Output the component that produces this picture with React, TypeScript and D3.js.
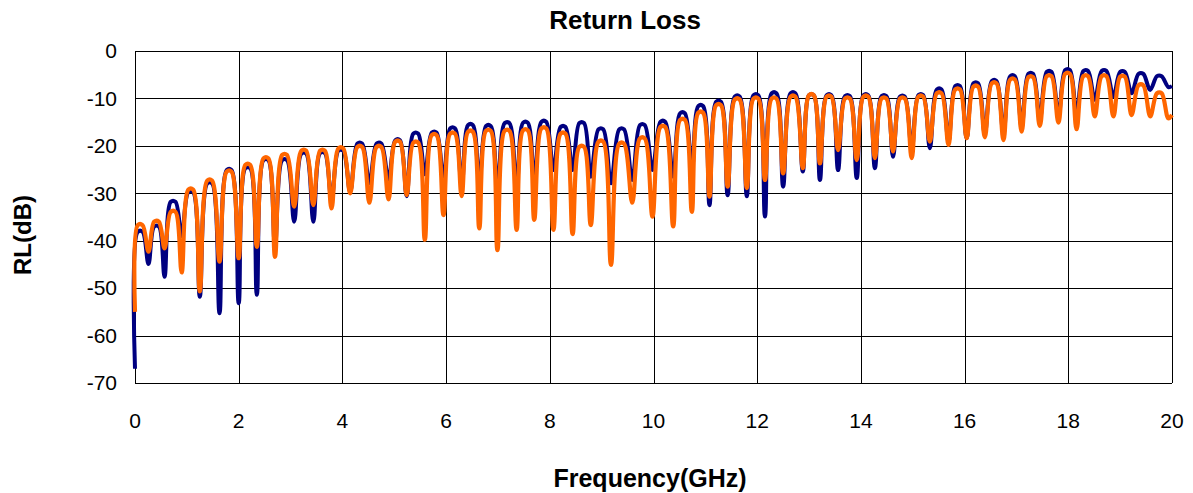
import * as d3 from 'd3'

// ripple minima (GHz)
const dipFreq = [
  0.26, 0.57, 0.9, 1.25, 1.63, 2.0, 2.35, 2.7, 3.07, 3.44, 3.79, 4.15, 4.52, 4.89,
  5.24, 5.59, 5.95, 6.3, 6.64, 6.99, 7.36, 7.7, 8.07, 8.44, 8.79, 9.18, 9.59, 9.98,
  10.38, 10.74, 11.08, 11.43, 11.8, 12.15, 12.5, 12.88, 13.21, 13.56, 13.92, 14.27,
  14.62, 14.98, 15.33, 15.69, 16.04, 16.39, 16.75, 17.1, 17.45, 17.81, 18.16, 18.51,
  18.87, 19.22, 19.58, 19.93,
]

// peak before each dip (dB)
const bluePeak = [
  -38.1, -37.0, -31.8, -29.7, -27.9, -25.1, -24.7, -23.0, -23.0, -21.6, -21.5, -21.0,
  -19.5, -19.5, -18.8, -17.4, -17.2, -16.3, -15.6, -15.8, -15.2, -15.1, -14.9, -16.0,
  -15.2, -16.5, -16.5, -15.6, -14.9, -13.1, -11.6, -10.7, -9.6, -9.3, -8.9, -8.9,
  -9.3, -9.3, -9.5, -9.3, -9.5, -9.6, -9.3, -8.1, -7.4, -6.8, -6.3, -5.3, -4.8, -4.4,
  -4.0, -4.2, -4.2, -4.4, -4.8, -5.3,
]
const orangePeak = [
  -36.7, -36.0, -33.9, -29.2, -27.3, -25.4, -24.0, -22.6, -21.9, -21.0, -21.0, -20.5,
  -20.2, -20.2, -19.1, -19.3, -17.7, -17.4, -17.0, -16.8, -16.8, -16.7, -16.3, -17.4,
  -20.2, -19.1, -19.5, -18.4, -16.0, -14.5, -13.0, -11.4, -10.2, -10.0, -10.0, -9.6,
  -9.3, -9.6, -10.0, -9.6, -10.0, -10.0, -9.6, -8.9, -8.1, -7.5, -6.8, -6.0, -5.5,
  -5.3, -4.8, -5.3, -5.3, -5.4, -7.2, -8.9,
]

const blueDip = [
  -44.9, -47.6, -39.0, -51.8, -55.3, -53.2, -51.4, -41.0, -36.0, -36.0, -31.4, -29.7,
  -27.9, -27.2, -30.6, -26.0, -27.2, -28.6, -27.9, -28.6, -28.6, -27.2, -25.1, -25.1,
  -26.5, -27.9, -27.2, -25.1, -26.5, -25.1, -32.5, -30.4, -30.6, -34.9, -28.6, -25.4,
  -27.2, -25.1, -26.8, -24.7, -22.3, -20.9, -20.5, -19.1, -18.4, -17.5, -17.5, -16.0,
  -14.5, -13.8, -13.5, -10.3, -9.6, -8.9, -8.2, -7.6,
]
const orangeDip = [
  -42.3, -41.6, -46.7, -50.7, -44.4, -43.7, -41.3, -43.4, -32.8, -32.5, -33.2, -30.0,
  -32.0, -31.3, -30.4, -39.8, -34.6, -30.6, -37.4, -42.0, -37.7, -35.6, -37.7, -38.6,
  -36.7, -45.1, -32.0, -34.9, -37.0, -33.9, -30.7, -28.6, -28.9, -27.2, -25.8, -24.7,
  -23.7, -20.9, -23.0, -22.6, -21.2, -22.6, -19.1, -19.8, -18.4, -18.2, -18.8, -17.0,
  -15.8, -15.1, -16.5, -13.8, -13.8, -13.5, -13.8, -14.2,
]

// value at 0 GHz and at 20 GHz
const blueEnds = [-67, -7.4]
const orangeEnds = [-55, -13.5]

const xTicks = [0, 2, 4, 6, 8, 10, 12, 14, 16, 18, 20]
const yTicks = [0, -10, -20, -30, -40, -50, -60, -70]

const W = 1193
const H = 493
const left = 135
const right = 1172
const top = 51
const bottom = 383
const font = 'Arial, "Liberation Sans", sans-serif'

const buildSeries = (peaks: number[], dips: number[], ends: number[]) => {
  const pts: [number, number][] = [[0, ends[0]]]
  const hw = 0.045
  dipFreq.forEach((f, i) => {
    const pf = i === 0 ? 0.1 : (dipFreq[i - 1] + f) / 2
    pts.push([pf - hw, peaks[i]], [pf + hw, peaks[i]], [f, dips[i]])
  })
  pts.push([20, ends[1]])
  return pts
}

export default function App() {
  const x = d3.scaleLinear().domain([0, 20]).range([left, right])
  const y = d3.scaleLinear().domain([-70, 0]).range([bottom, top])

  const line = d3.line<[number, number]>()
    .x(d => x(d[0]))
    .y(d => y(d[1]))
    .curve(d3.curveCatmullRom.alpha(0.5))

  const blue = buildSeries(bluePeak, blueDip, blueEnds)
  const orange = buildSeries(orangePeak, orangeDip, orangeEnds)

  return (
    <svg width={W} height={H} style={{ position: 'absolute', left: 0, top: 0, background: '#fff' }}
      fontFamily={font}>
      <text x={625} y={29} textAnchor='middle' fontSize={26} fontWeight='bold'>Return Loss</text>

      {/* grid */}
      <g shapeRendering='crispEdges' stroke='#000' strokeWidth={1}>
        {yTicks.map(t => (
          <line key={'h' + t} x1={left} x2={right} y1={Math.round(y(t)) + 0.5} y2={Math.round(y(t)) + 0.5} />
        ))}
        {xTicks.map(t => (
          <line key={'v' + t} x1={Math.round(x(t)) + 0.5} x2={Math.round(x(t)) + 0.5} y1={top} y2={bottom} />
        ))}
      </g>

      <path d={line(blue) ?? ''} fill='none' stroke='#000080' strokeWidth={4} strokeLinejoin='round' />
      <path d={line(orange) ?? ''} fill='none' stroke='#FF6600' strokeWidth={4.2} strokeLinejoin='round' />

      {yTicks.map(t => (
        <text key={'yl' + t} x={117} y={y(t)} dy='0.35em' textAnchor='end' fontSize={21}>{t}</text>
      ))}
      {xTicks.map(t => (
        <text key={'xl' + t} x={x(t)} y={421} dy='0.35em' textAnchor='middle' fontSize={21}>{t}</text>
      ))}

      <text x={650} y={478} dy='0.35em' textAnchor='middle' fontSize={25} fontWeight='bold'>Frequency(GHz)</text>
      <text transform='translate(23,235) rotate(-90)' dy='0.35em' textAnchor='middle' fontSize={24} fontWeight='bold'>RL(dB)</text>
    </svg>
  )
}
